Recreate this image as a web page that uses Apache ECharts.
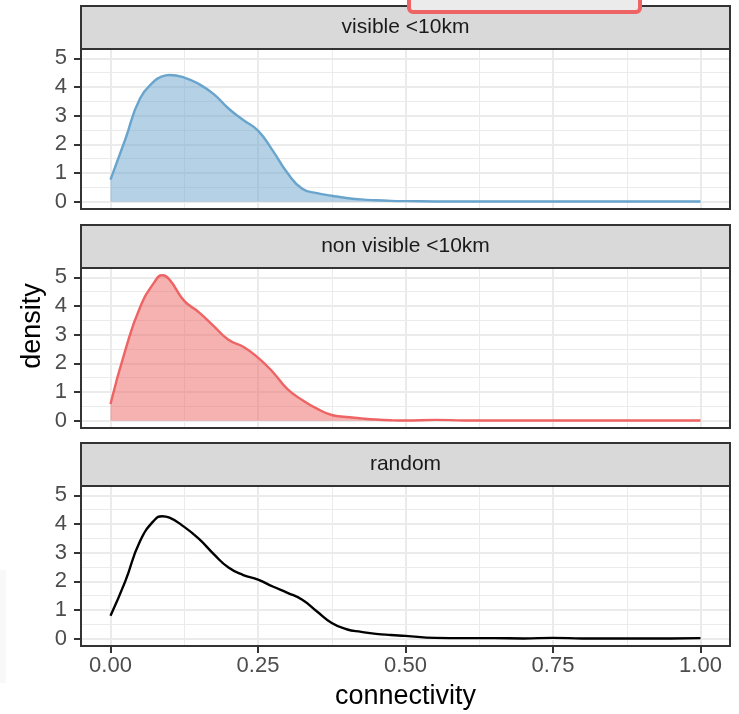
<!DOCTYPE html>
<html>
<head>
<meta charset="utf-8">
<script src="https://cdn.jsdelivr.net/npm/echarts@6/dist/echarts.min.js"></script>
<style>
  html, body { margin: 0; padding: 0; background: #fff; }
  #chart { width: 739px; height: 714px; }
</style>
</head>
<body>
<div id="chart"></div>
<script>
// facet labels
const panelNames = ['visible <10km', 'non visible <10km', 'random'];

// x positions of the density estimates
const connectivity = [0, 0.025, 0.05, 0.075, 0.0875, 0.1, 0.125, 0.15, 0.175, 0.2, 0.225, 0.25,
  0.275, 0.3, 0.325, 0.35, 0.375, 0.4, 0.425, 0.45, 0.475, 0.5,
  0.55, 0.6, 0.65, 0.7, 0.75, 0.8, 0.85, 0.9, 0.95, 1.0];

const visibleDensity = [0.77, 2.17, 3.6, 4.22, 4.37, 4.42, 4.33, 4.1, 3.75, 3.25, 2.85, 2.48,
  1.78, 1.0, 0.45, 0.3, 0.21, 0.13, 0.08, 0.05, 0.03, 0.02,
  0.01, 0.005, 0.005, 0.005, 0.005, 0.005, 0.005, 0.005, 0.005, 0.005];

const nonVisibleDensity = [0.58, 2.45, 3.95, 4.85, 5.07, 4.92, 4.18, 3.78, 3.3, 2.82, 2.58, 2.2,
  1.7, 1.1, 0.72, 0.42, 0.2, 0.13, 0.08, 0.04, 0.015, 0.005,
  0.03, 0.01, 0.005, 0.005, 0.005, 0.005, 0.005, 0.005, 0.005, 0.005];

const randomDensity = [0.8, 2.0, 3.4, 4.15, 4.27, 4.22, 3.9, 3.48, 2.95, 2.48, 2.22, 2.06,
  1.82, 1.6, 1.36, 0.95, 0.55, 0.33, 0.24, 0.17, 0.13, 0.1,
  0.03, 0.02, 0.02, 0.01, 0.03, 0.01, 0.005, 0.005, 0.01, 0.02];

// tick labels / grid lines
const xTicks = [0, 0.25, 0.5, 0.75, 1];
const xMinorTicks = [0.125, 0.375, 0.625, 0.875];
const yTicks = [0, 1, 2, 3, 4, 5];
const yMinorTicks = [0.5, 1.5, 2.5, 3.5, 4.5];

const FONT = 'Liberation Sans';
const PANEL_LEFT = 81;
const PANEL_W = 649;
const PANEL_H = 160;
const STRIP_H = 43;
const panelTops = [49, 268, 486];

const panelData = [visibleDensity, nonVisibleDensity, randomDensity];
const lineColors = ['#69A4CD', '#EE6363', '#000000'];
const fillColors = ['rgba(105,164,205,0.5)', 'rgba(238,99,99,0.5)', null];

const grids = [];
const xAxes = [];
const yAxes = [];
const series = [];
const graphics = [];

panelTops.forEach((top, i) => {
  const isBottom = i === panelTops.length - 1;
  grids.push({
    left: PANEL_LEFT, top: top, width: PANEL_W, height: PANEL_H,
    show: true, backgroundColor: '#fff', borderWidth: 0,
  });

  // major x
  xAxes.push({
    gridIndex: i, type: 'value', position: 'bottom', min: -0.05, max: 1.05,
    axisLine: { show: false, onZero: false },
    axisTick: { show: isBottom, customValues: xTicks, length: 7, lineStyle: { color: '#333333', width: 2 } },
    axisLabel: {
      show: isBottom, customValues: xTicks, margin: 9,
      color: '#4d4d4d', fontSize: 22, fontFamily: FONT,
      formatter: (v) => v.toFixed(2),
    },
    splitLine: { show: true, lineStyle: { color: '#ebebeb', width: 2 } },
  });
  // minor x
  xAxes.push({
    gridIndex: i, type: 'value', position: 'top', min: -0.05, max: 1.05,
    axisLine: { show: false, onZero: false },
    axisTick: { show: false, customValues: xMinorTicks },
    axisLabel: { show: false, customValues: xMinorTicks },
    splitLine: { show: true, lineStyle: { color: '#ebebeb', width: 1 } },
  });
  // major y
  yAxes.push({
    gridIndex: i, type: 'value', position: 'left', min: -0.254, max: 5.325,
    axisLine: { show: false, onZero: false },
    axisTick: { show: true, customValues: yTicks, length: 7, lineStyle: { color: '#333333', width: 2 } },
    axisLabel: { show: true, customValues: yTicks, margin: 14, color: '#4d4d4d', fontSize: 22, fontFamily: FONT },
    splitLine: { show: true, lineStyle: { color: '#ebebeb', width: 2 } },
  });
  // minor y
  yAxes.push({
    gridIndex: i, type: 'value', position: 'right', min: -0.254, max: 5.325,
    axisLine: { show: false, onZero: false },
    axisTick: { show: false, customValues: yMinorTicks },
    axisLabel: { show: false, customValues: yMinorTicks },
    splitLine: { show: true, lineStyle: { color: '#ebebeb', width: 1 } },
  });

  const s = {
    type: 'line',
    xAxisIndex: i * 2,
    yAxisIndex: i * 2,
    data: connectivity.map((x, j) => [x, panelData[i][j]]),
    smooth: 0.5,
    showSymbol: false,
    silent: true,
    lineStyle: { color: lineColors[i], width: 2.4 },
    z: 3,
  };
  if (fillColors[i]) {
    s.areaStyle = { color: fillColors[i], opacity: 1 };
  }
  series.push(s);

  // panel border, drawn over the grid lines
  graphics.push({
    type: 'rect', silent: true, z: 100,
    shape: { x: PANEL_LEFT, y: top, width: PANEL_W, height: PANEL_H },
    style: { fill: null, stroke: '#333333', lineWidth: 2 },
  });
  // facet strip
  graphics.push({
    type: 'rect', silent: true, z: 100,
    shape: { x: PANEL_LEFT, y: top - STRIP_H, width: PANEL_W, height: STRIP_H },
    style: { fill: '#d9d9d9', stroke: '#333333', lineWidth: 2 },
  });
  graphics.push({
    type: 'text', silent: true, z: 101,
    x: PANEL_LEFT + PANEL_W / 2, y: top - STRIP_H / 2,
    style: {
      text: panelNames[i], fill: '#1a1a1a', fontSize: 21, fontFamily: FONT,
      align: 'center', verticalAlign: 'middle',
    },
  });
});

// axis titles
graphics.push({
  type: 'text', silent: true, x: PANEL_LEFT + PANEL_W / 2, y: 697,
  style: { text: 'connectivity', fill: '#000', fontSize: 27, fontFamily: FONT, align: 'center', verticalAlign: 'middle' },
});
graphics.push({
  type: 'text', silent: true, x: 33, y: 326, rotation: Math.PI / 2,
  style: { text: 'density', fill: '#000', fontSize: 27, fontFamily: FONT, align: 'center', verticalAlign: 'middle' },
});

// box peeking in at the top and faint edge on the left
graphics.push({
  type: 'rect', silent: true, z: 102,
  shape: { x: 409, y: -20, width: 231, height: 32, r: 4 },
  style: { fill: '#ebebeb', stroke: '#EE6363', lineWidth: 4 },
});
graphics.push({
  type: 'rect', silent: true,
  shape: { x: 0, y: 570, width: 6, height: 113 },
  style: { fill: '#f8f8f8' },
});

const myChart = echarts.init(document.getElementById('chart'), null, { renderer: 'canvas' });
myChart.setOption({
  animation: false,
  backgroundColor: '#fff',
  grid: grids,
  xAxis: xAxes,
  yAxis: yAxes,
  series: series,
  graphic: { elements: graphics },
});
</script>
</body>
</html>
